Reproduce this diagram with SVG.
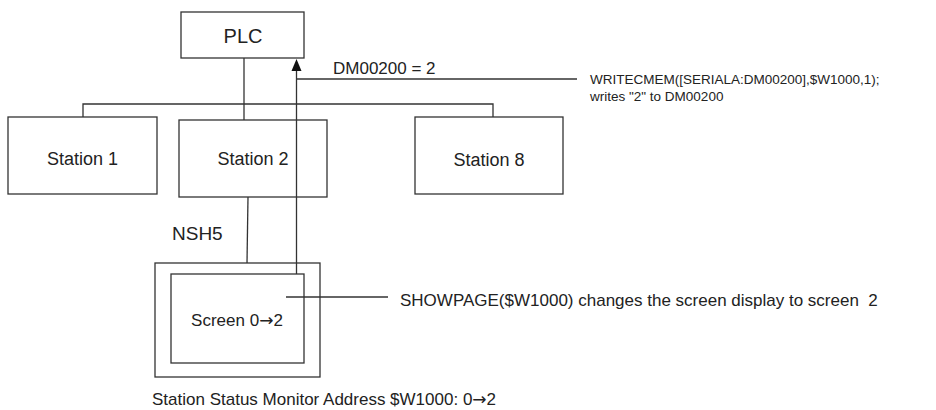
<svg xmlns="http://www.w3.org/2000/svg" width="936" height="410" viewBox="0 0 936 410">
<style>
.box{fill:none;stroke:#333;stroke-width:1.3}
.ln{fill:none;stroke:#333;stroke-width:1.3}
.t{font-family:"Liberation Sans",Arial,sans-serif;fill:#222}
.ar{font-family:"DejaVu Sans",sans-serif}
</style>
<rect width="936" height="410" fill="#fff"/>
<g id="connectors">
<polyline class="ln" points="83,117 83,104 493,104 493,117"/>
<line class="ln" x1="244" y1="58" x2="244" y2="120"/>
<line class="ln" x1="248" y1="197" x2="247" y2="263"/>
<line class="ln" x1="296.5" y1="274" x2="296.5" y2="70"/>
<polygon points="296.5,59 291.5,71 301.5,71" fill="#111"/>
<line class="ln" x1="296.5" y1="79" x2="577" y2="79"/>
<line class="ln" x1="286" y1="297" x2="388" y2="297"/>
</g>
<g id="plc">
<rect class="box" x="181" y="12" width="123" height="46"/>
<text class="t" x="243" y="43" font-size="20" text-anchor="middle">PLC</text>
</g>
<g id="station1">
<rect class="box" x="8" y="117" width="149" height="77"/>
<text class="t" x="82.5" y="165" font-size="18" text-anchor="middle">Station 1</text>
</g>
<g id="station2">
<rect class="box" x="179" y="120" width="148" height="77"/>
<text class="t" x="253" y="165" font-size="18" text-anchor="middle">Station 2</text>
</g>
<g id="station8">
<rect class="box" x="415" y="117" width="148" height="77"/>
<text class="t" x="489" y="166" font-size="18" text-anchor="middle">Station 8</text>
</g>
<g id="nsh5">
<rect class="box" x="155" y="263" width="165" height="114"/>
<rect class="box" x="171" y="274" width="133" height="89"/>
<text class="t" x="237" y="326" font-size="17" text-anchor="middle">Screen 0<tspan class="ar">→</tspan>2</text>
<text class="t" x="172" y="240" font-size="19">NSH5</text>
</g>
<g id="labels">
<text class="t" x="333" y="74" font-size="17">DM00200 = 2</text>
<text class="t" x="590" y="84" font-size="13.5">WRITECMEM([SERIALA:DM00200],$W1000,1);</text>
<text class="t" x="590" y="101" font-size="13.5">writes "2" to DM00200</text>
<text class="t" x="400" y="306" font-size="17" xml:space="preserve">SHOWPAGE($W1000) changes the screen display to screen  2</text>
<text class="t" x="152" y="405" font-size="17">Station Status Monitor Address $W1000: 0<tspan class="ar">→</tspan>2</text>
</g>
</svg>
